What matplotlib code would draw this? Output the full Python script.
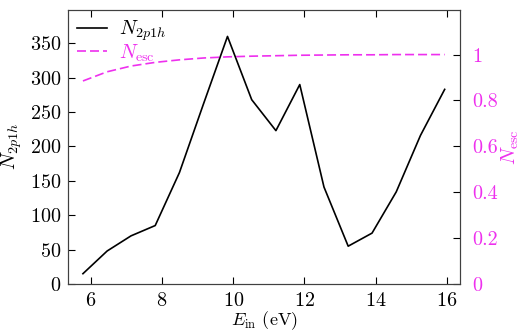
import numpy as np
import matplotlib
matplotlib.use("Agg")
import matplotlib.pyplot as plt

plt.rcParams['font.family'] = 'serif'
plt.rcParams['font.serif'] = ['cmr10']
plt.rcParams['mathtext.fontset'] = 'cm'
plt.rcParams['axes.formatter.use_mathtext'] = True

# data
energy = [5.78, 6.46, 7.13, 7.81, 8.49, 9.16, 9.84, 10.52, 11.2, 11.87,
          12.55, 13.23, 13.9, 14.58, 15.26, 15.94]
n_2p1h = [15, 48, 70, 85, 162, 261, 360, 268, 223, 290,
          141, 55, 74, 134, 216, 283]
n_esc = [0.885, 0.925, 0.950, 0.966, 0.977, 0.985, 0.990, 0.993, 0.995, 0.997,
         0.998, 0.999, 0.999, 1.0, 1.0, 1.0]

magenta = '#ee30ee'
fs = 14.5

fig = plt.figure(figsize=(5.23, 3.31), dpi=100)
ax = fig.add_axes([0.130, 0.142, 0.7495, 0.829])
ax2 = ax.twinx()

l1, = ax.plot(energy, n_2p1h, color='black', lw=1.2, label=r'$N_{2p1h}$')
l2, = ax2.plot(energy, n_esc, color=magenta, lw=1.2, ls=(0, (5.4, 2.4)), label=r'$N_{\rm esc}$')

ax.set_xlim(5.36, 16.37)
ax.set_ylim(0, 399)
ax2.set_ylim(0, 1.196)
ax.set_xticks([6, 8, 10, 12, 14, 16])
ax.set_yticks(range(0, 351, 50))
ax2.set_yticks([0, 0.2, 0.4, 0.6, 0.8, 1])
ax2.set_yticklabels(['0', '0.2', '0.4', '0.6', '0.8', '1'])

ax.tick_params(direction='in', top=True, right=False, length=5, labelsize=fs, pad=5)
ax.tick_params(axis='x', pad=6)
ax2.tick_params(direction='in', length=5, labelsize=fs, labelcolor=magenta, pad=9)

ax.set_xlabel(r'$E_{\rm in}$ (eV)', fontsize=13)
ax.xaxis.set_label_coords(0.5, -0.093)
ax.set_ylabel(r'$N_{2p1h}$', fontsize=fs, labelpad=4)
ax2.set_ylabel(r'$N_{\rm esc}$', fontsize=fs, color=magenta, labelpad=1)

for a in (ax, ax2):
    for s in a.spines.values():
        s.set_color('#404040')

leg = ax.legend(handles=[l1, l2], loc='upper left', frameon=False, fontsize=fs,
                handlelength=1.5, handletextpad=0.6, borderaxespad=0.05,
                labelspacing=-0.05)
leg.get_texts()[1].set_color(magenta)

fig.savefig('out.png', dpi=100)
